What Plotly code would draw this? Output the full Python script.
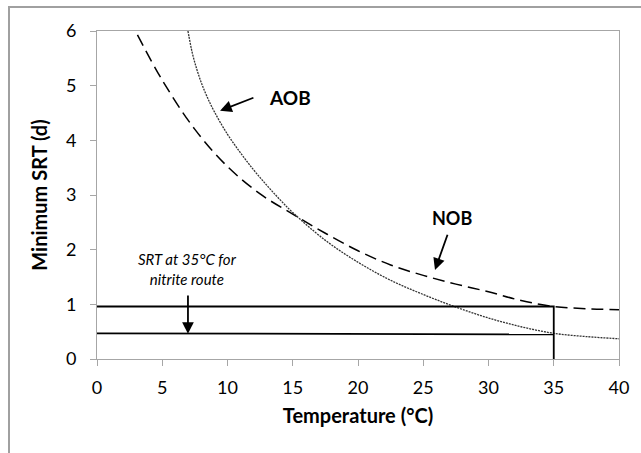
import plotly.graph_objects as go

# NOB curve (dashed)
nob_T = [3.1, 5.0, 7.5, 10.0, 12.5, 15.0, 17.5, 20.0, 22.5, 25.0, 27.5, 30.0, 32.5, 35.0, 37.5, 40.0]
nob_srt = [5.93, 5.1, 4.2, 3.52, 3.02, 2.65, 2.3, 1.98, 1.72, 1.53, 1.37, 1.23, 1.07, 0.96, 0.92, 0.9]

# AOB curve (dotted)
aob_T = [6.97, 7.3, 7.66, 8.0, 8.43, 9.0, 10.0, 11.0, 12.0, 13.0, 14.0, 15.0, 17.5, 20.0, 22.5, 25.0,
         27.5, 30.0, 32.5, 35.0, 37.5, 40.0]
aob_srt = [6.0, 5.6, 5.29, 5.05, 4.8, 4.52, 4.11, 3.77, 3.46, 3.18, 2.92, 2.68, 2.17, 1.77, 1.44, 1.18,
           0.95, 0.75, 0.59, 0.47, 0.41, 0.37]

# SRT at 35 C reference lines
ref_T_upper = [0, 35, 35]
ref_srt_upper = [0.96, 0.96, 0]
ref_T_lower = [0, 35]
ref_srt_lower = [0.47, 0.45]

x_ticks = [0, 5, 10, 15, 20, 25, 30, 35, 40]
y_ticks = [0, 1, 2, 3, 4, 5, 6]

FONT = "Lato"
AXIS_GRAY = "#a6a6a6"

fig = go.Figure()
fig.add_trace(go.Scatter(x=nob_T, y=nob_srt, mode="lines", line_shape="spline",
                         line=dict(color="black", width=1.5, dash="12px,6px"), showlegend=False))
fig.add_trace(go.Scatter(x=aob_T, y=aob_srt, mode="lines", line_shape="spline",
                         line=dict(color="#333333", width=1.3, dash="2px,1px"), showlegend=False))
fig.add_trace(go.Scatter(x=ref_T_upper, y=ref_srt_upper, mode="lines",
                         line=dict(color="black", width=1.8), showlegend=False))
fig.add_trace(go.Scatter(x=ref_T_lower, y=ref_srt_lower, mode="lines",
                         line=dict(color="black", width=1.8), showlegend=False))

fig.add_annotation(x=14.8, y=4.79, text="<b>AOB</b>", showarrow=False,
                   font=dict(family=FONT, size=19, color="black"))
fig.add_annotation(x=9.43, y=4.54, ax=12.1, ay=4.79, axref="x", ayref="y", text="",
                   showarrow=True, arrowhead=2, arrowsize=1.3, arrowwidth=1.8, arrowcolor="black")
fig.add_annotation(x=27.2, y=2.58, text="<b>NOB</b>", showarrow=False,
                   font=dict(family=FONT, size=18, color="black"))
fig.add_annotation(x=25.9, y=1.63, ax=26.9, ay=2.30, axref="x", ayref="y", text="",
                   showarrow=True, arrowhead=2, arrowsize=1.3, arrowwidth=1.8, arrowcolor="black")
fig.add_annotation(x=6.9, y=1.64, text="<i>SRT at 35°C for<br>nitrite route</i>", showarrow=False,
                   font=dict(family=FONT, size=15, color="black"), align="center")
fig.add_annotation(x=6.97, y=0.46, ax=6.97, ay=1.19, axref="x", ayref="y", text="",
                   showarrow=True, arrowhead=2, arrowsize=1.3, arrowwidth=1.8, arrowcolor="black")

# outer chart frame
fig.add_shape(type="rect", xref="paper", yref="paper", x0=(9 - 97) / 522, x1=1.3,
              y0=-0.5, y1=(359 - 7) / 328, line=dict(color="#a0a0a0", width=2), layer="below")

fig.update_xaxes(range=[0, 40], tickvals=x_ticks, showgrid=False, zeroline=False,
                 showline=True, linecolor=AXIS_GRAY, linewidth=1, mirror=True,
                 ticks="outside", ticklen=6, tickcolor=AXIS_GRAY, ticklabelstandoff=6,
                 tickfont=dict(family=FONT, size=18, color="black"),
                 title=dict(text="<b>Temperature (°C)</b>", font=dict(family=FONT, size=20, color="black"), standoff=12))
fig.update_yaxes(range=[0, 6], tickvals=y_ticks, showgrid=False, zeroline=False,
                 showline=True, linecolor=AXIS_GRAY, linewidth=1, mirror=True,
                 ticks="outside", ticklen=6, tickcolor=AXIS_GRAY, ticklabelstandoff=10,
                 tickfont=dict(family=FONT, size=18, color="black"),
                 title=dict(text="<b>Minimum SRT (d)</b>", font=dict(family=FONT, size=20, color="black"), standoff=12))
fig.update_layout(width=641, height=453, margin=dict(l=97, r=22, t=31, b=94),
                  plot_bgcolor="white", paper_bgcolor="white")
fig.write_html("out.html", config={"displayModeBar": False},
               post_script="document.body.style.margin='0';document.body.style.overflow='hidden';")
